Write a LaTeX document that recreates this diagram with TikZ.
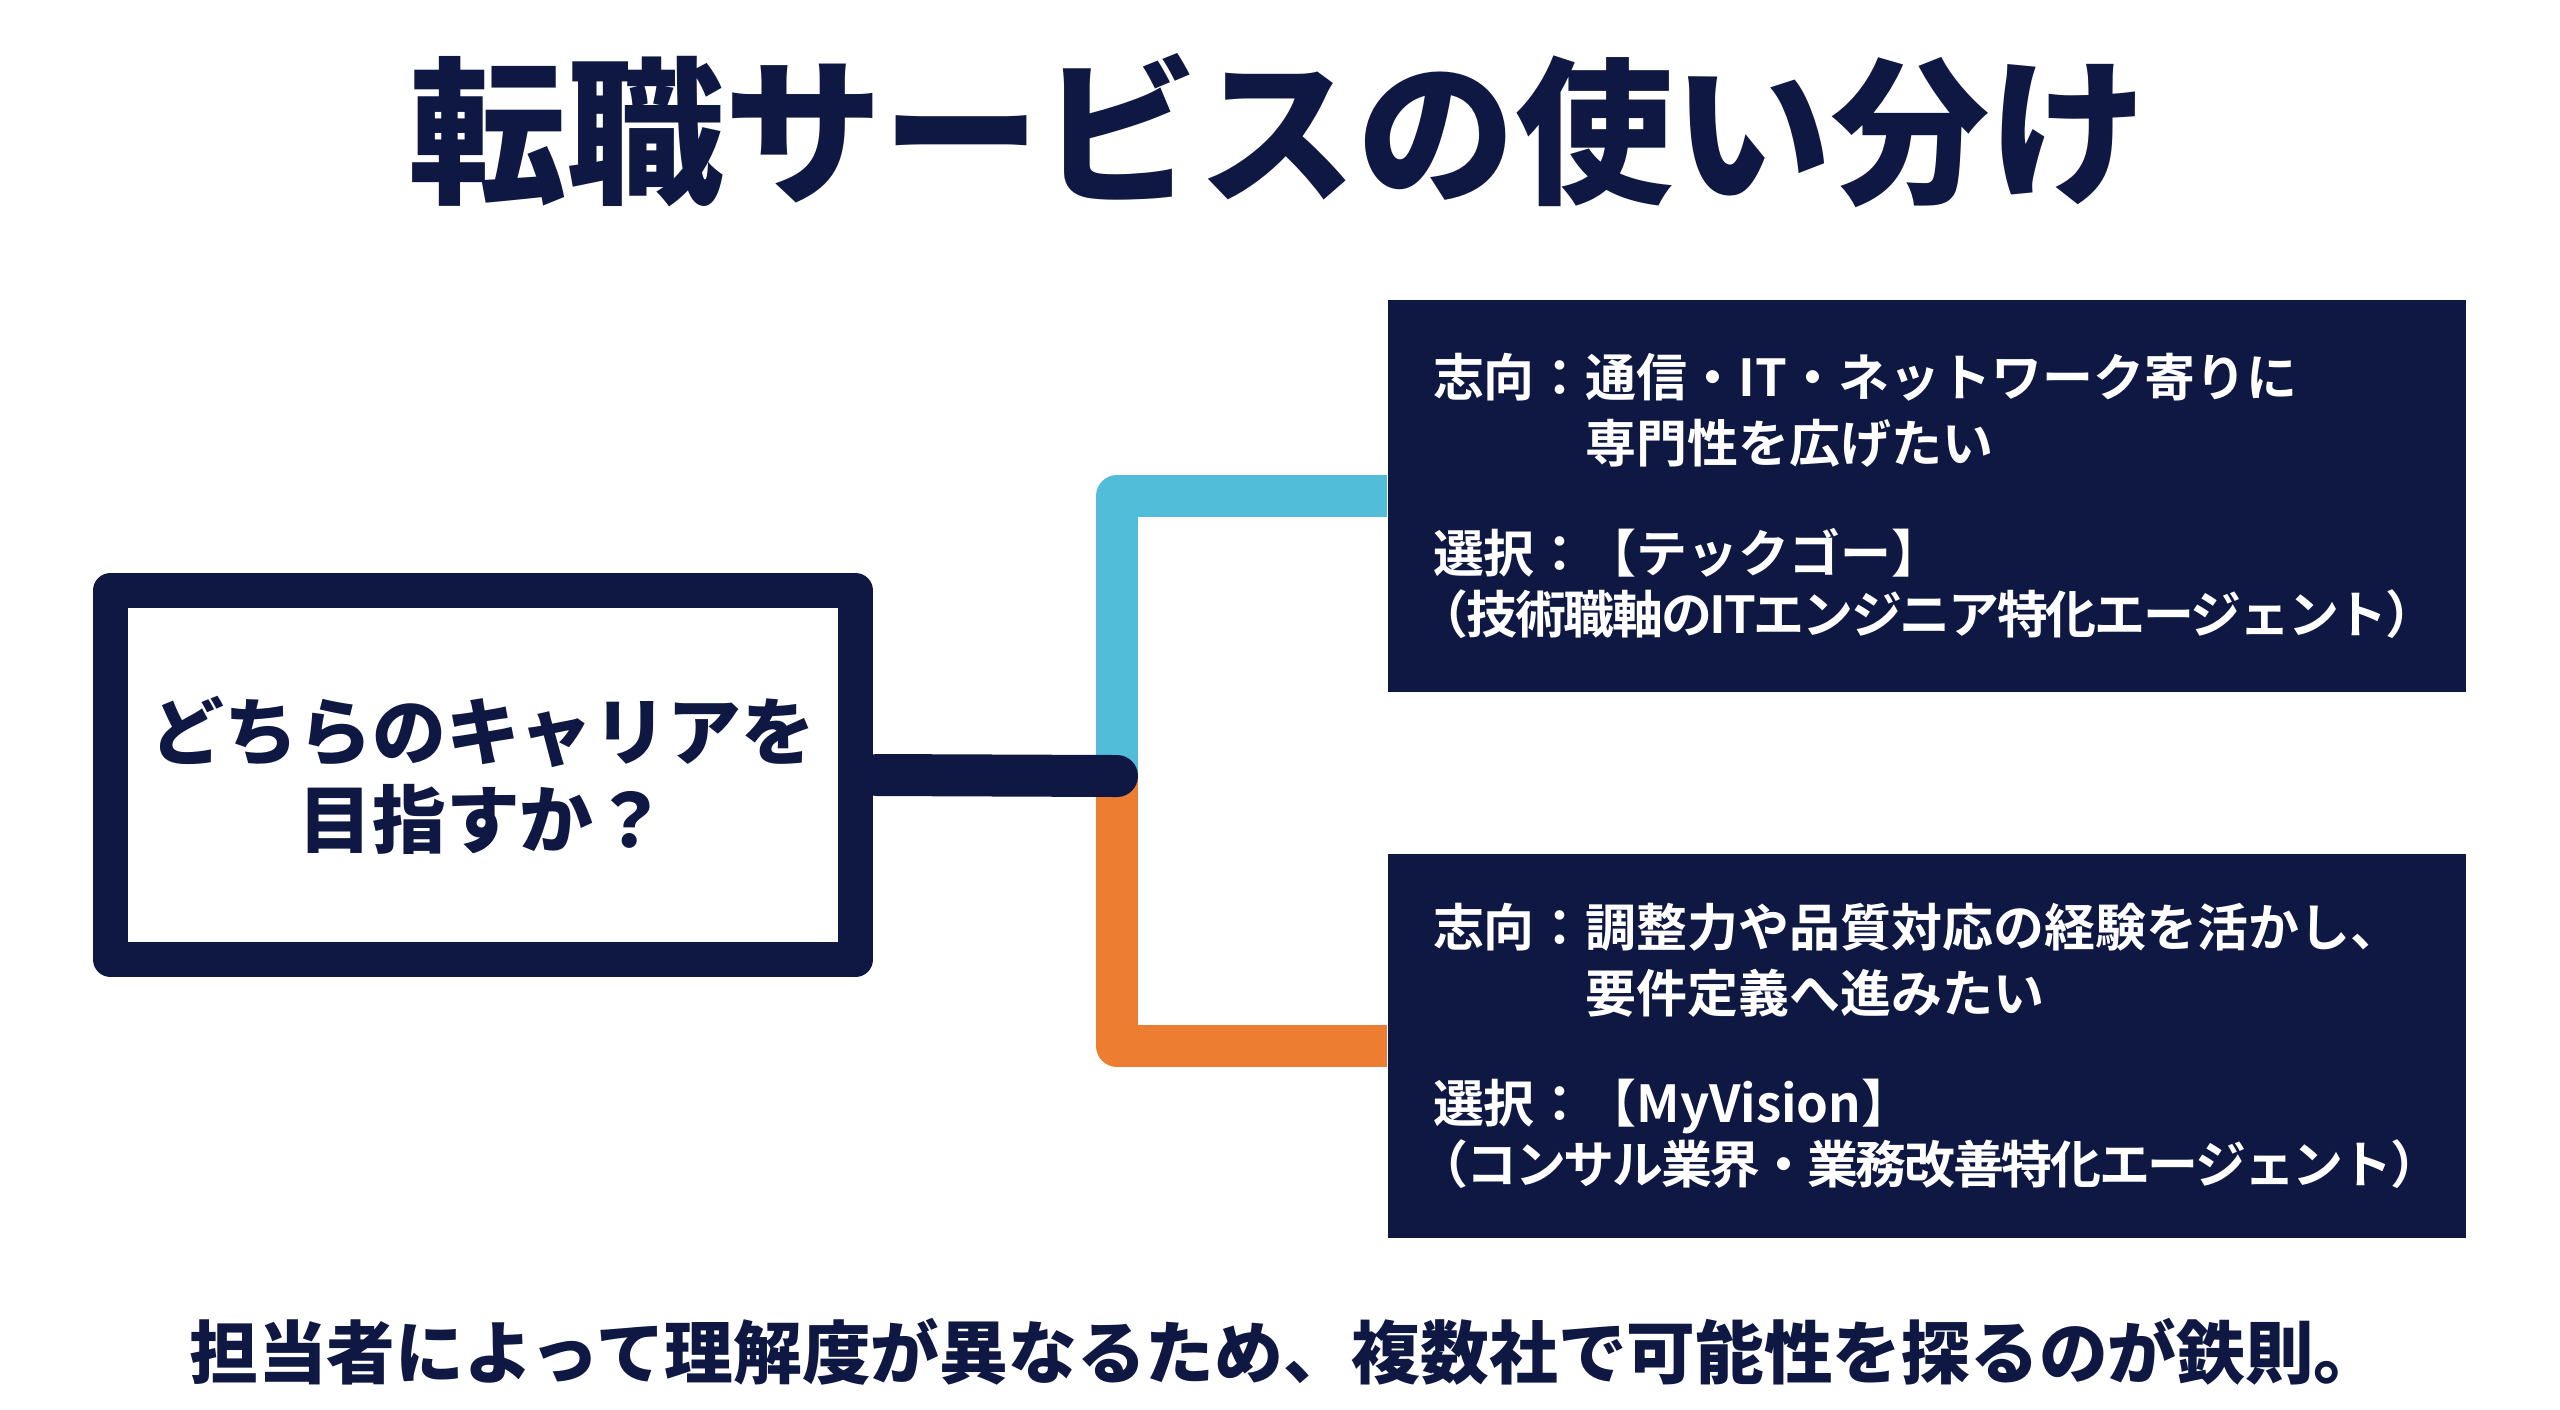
\documentclass[tikz,border=0pt]{standalone}
\usepackage{fontspec}
\setmainfont{Noto Sans CJK JP}[BoldFont=* Bold]
\newfontfamily\heavyfont{Noto Sans CJK JP Black}
\definecolor{navy}{RGB}{14,24,66}
\definecolor{techblue}{RGB}{82,189,216}
\definecolor{visionorange}{RGB}{237,125,49}
\newcommand{\tightline}[1]{\hspace*{-0.3em}{\addfontfeature{LetterSpace=-4.5}#1}}
\tikzset{
  headline/.style={text=navy, font=\fontsize{45pt}{54pt}\selectfont\heavyfont},
  question/.style={draw=navy, line width=3.5mm, line join=round, minimum width=74.5mm, minimum height=36.9mm,
    align=center, inner sep=0pt, text=navy, font=\fontsize{21pt}{25pt}\selectfont\heavyfont},
  choice/.style={fill=navy, minimum width=107.8mm, text width=98.8mm, inner xsep=4.5mm, align=left,
    text=white, font=\fontsize{14.5pt}{18.8pt}\selectfont\bfseries},
  branch/.style={line width=4.2mm, line join=round},
  stem/.style={draw=navy, line width=4.2mm, line cap=round},
  footnote/.style={text=navy, font=\fontsize{19.55pt}{23pt}\selectfont\heavyfont}
}
\begin{document}
\begin{tikzpicture}[x=0.1mm, y=-0.1mm]
\useasboundingbox (0,0) rectangle (2560,1409);
\node[headline] (title) at (1278,131) {転職サービスの使い分け};
\node[question] (ask) at (483,775) {どちらのキャリアを\\目指すか？};
\node[choice, minimum height=39.2mm] (tech) at (1927,496)
  {志向：通信・IT・ネットワーク寄りに\\\hspace*{3em}専門性を広げたい\\[12.5pt]
   選択：【テックゴー】\\[-1.4pt]\tightline{（技術職軸のITエンジニア特化エージェント）}};
\node[choice, minimum height=38.4mm] (vision) at (1927,1046)
  {志向：調整力や品質対応の経験を活かし、\\\hspace*{3em}要件定義へ進みたい\\[12.5pt]
   選択：【MyVision】\\[-1.4pt]\tightline{（コンサル業界・業務改善特化エージェント）}};
\node[footnote] (note) at (1286,1352) {担当者によって理解度が異なるため、複数社で可能性を探るのが鉄則。};
\coordinate (fork) at (1117,776);
\draw[branch, draw=techblue] (fork) |- (tech.west);
\draw[branch, draw=visionorange] (fork) |- (vision.west);
\draw[stem] ([xshift=0.4mm]ask.east) -- (fork);
\end{tikzpicture}
\end{document}
